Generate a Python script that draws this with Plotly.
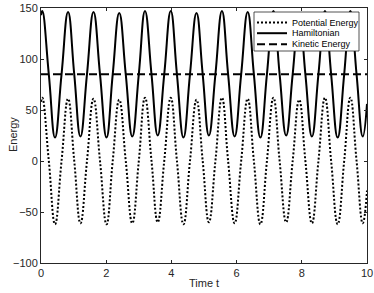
import plotly.graph_objects as go

# Values (extrema, mean crossings, ends)
time_t = [0.00, 0.04, 0.24, 0.43, 0.63, 0.83, 1.02, 1.21, 1.41, 1.61, 1.81, 2.01,
          2.20, 2.40, 2.60, 2.80, 3.00, 3.19, 3.39, 3.58, 3.78, 3.98, 4.17, 4.37,
          4.57, 4.77, 4.96, 5.15, 5.35, 5.55, 5.74, 5.94, 6.14, 6.34, 6.53, 6.73,
          6.93, 7.13, 7.32, 7.52, 7.72, 7.92, 8.11, 8.31, 8.51, 8.71, 8.90, 9.10,
          9.30, 9.49, 9.68, 9.87, 10.00]

potential_energy = [58, 62, 0, -62, 0, 61, 0, -61, 0, 61, 0, -62, 0, 60, 0, -61, 0,
                    62, 0, -60, 0, 62, 0, -62, 0, 60, 0, -60, 0, 62, 0, -61, 0, 61,
                    0, -62, 0, 62, 0, -60, 0, 60, 0, -61, 0, 62, 0, -62, 0, 62, 0,
                    -61, -29]

hamiltonian = [143, 147, 85, 23, 85, 146, 85, 24, 85, 146, 85, 23, 85, 145, 85, 24, 85,
               147, 85, 25, 85, 147, 85, 23, 85, 145, 85, 25, 85, 147, 85, 24, 85, 146,
               85, 23, 85, 147, 85, 25, 85, 145, 85, 24, 85, 147, 85, 23, 85, 147, 85,
               24, 56]

kinetic_time = [0, 10]
kinetic_energy = [85, 85]

legend_labels = ["Potential Energy", "Hamiltonian", "Kinetic Energy"]
legend_dashes = ["2px,2px", "solid", "8px,4px"]

x_ticks = [0, 2, 4, 6, 8, 10]
y_ticks = [-100, -50, 0, 50, 100, 150]

FONT = "Arial, Liberation Sans, Helvetica, sans-serif"
AX = "#262626"

fig = go.Figure()
fig.add_trace(go.Scatter(x=time_t, y=potential_energy, mode="lines", name=legend_labels[0],
                         line=dict(color="black", width=2, dash=legend_dashes[0],
                                   shape="spline", smoothing=1.3)))
fig.add_trace(go.Scatter(x=time_t, y=hamiltonian, mode="lines", name=legend_labels[1],
                         line=dict(color="black", width=2, dash=legend_dashes[1],
                                   shape="spline", smoothing=1.3)))
fig.add_trace(go.Scatter(x=kinetic_time, y=kinetic_energy, mode="lines", name=legend_labels[2],
                         line=dict(color="black", width=2, dash=legend_dashes[2])))

# Legend box drawn in paper coordinates (compact, MATLAB style)
W, H = 326.0, 255.0
L, T = 41.0, 8.0
def px(x):
    return (x - L) / W
def py(y):
    return 1 - (y - T) / H

shapes = [dict(type="rect", xref="paper", yref="paper", x0=px(254), x1=px(359),
               y0=py(51), y1=py(12), fillcolor="white",
               line=dict(color=AX, width=0.8), layer="above")]
annotations = []
rows = [22.5, 33.2, 44.2]
for lab, dash, ry in zip(legend_labels, legend_dashes, rows):
    shapes.append(dict(type="line", xref="paper", yref="paper", x0=px(257), x1=px(287),
                       y0=py(ry), y1=py(ry), layer="above",
                       line=dict(color="black", width=2, dash=dash)))
    annotations.append(dict(xref="paper", yref="paper", x=px(290), y=py(ry), text=lab,
                            showarrow=False, xanchor="left", yanchor="middle",
                            font=dict(family=FONT, size=9, color="black")))

# Axis titles
annotations.append(dict(xref="paper", yref="paper", x=px(204), y=py(283), text="Time t",
                        showarrow=False, xanchor="center", yanchor="middle",
                        font=dict(family=FONT, size=11, color=AX)))
annotations.append(dict(xref="paper", yref="paper", x=px(13), y=py(135), text="Energy",
                        showarrow=False, xanchor="center", yanchor="middle", textangle=-90,
                        font=dict(family=FONT, size=11, color=AX)))

axis_common = dict(showgrid=False, zeroline=False, showline=True, linecolor=AX,
                   linewidth=1, mirror="ticks", ticks="inside", ticklen=3,
                   tickcolor=AX, tickwidth=1, automargin=False,
                   tickfont=dict(family=FONT, size=11, color=AX))

fig.update_layout(
    width=374, height=293,
    margin=dict(l=41, r=7, t=8, b=30),
    paper_bgcolor="white", plot_bgcolor="white",
    showlegend=False,
    shapes=shapes, annotations=annotations,
    xaxis=dict(range=[0, 10], tickvals=x_ticks, **axis_common),
    yaxis=dict(range=[-100, 150], tickvals=y_ticks, **axis_common),
)

fig.write_html("out.html", config={"displayModeBar": False},
               post_script="document.body.style.margin='0';document.body.style.overflow='hidden';")
